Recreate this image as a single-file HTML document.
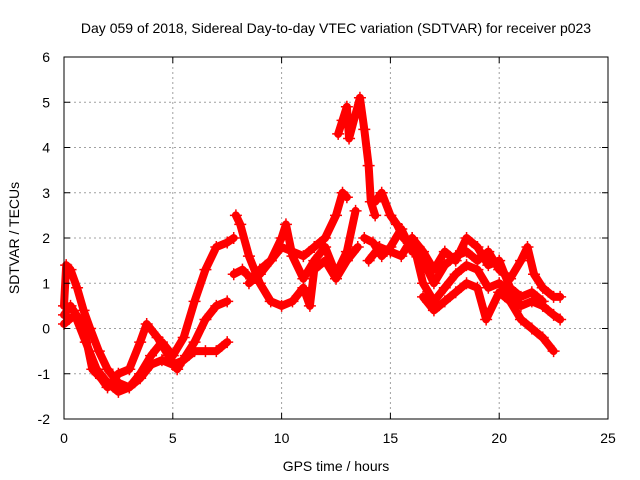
<!DOCTYPE html>
<html><head><meta charset="utf-8"><style>
body{margin:0;background:#fff}
svg{display:block;font-family:"Liberation Sans",sans-serif;font-size:14px}
</style></head><body>
<svg id="c" width="640" height="480">
<rect width="640" height="480" fill="#fff"/>
<text x="336" y="33" text-anchor="middle">Day 059 of 2018, Sidereal Day-to-day VTEC variation (SDTVAR) for receiver p023</text>
<text x="336" y="471" text-anchor="middle">GPS time / hours</text>
<text transform="translate(19,238) rotate(-90)" text-anchor="middle">SDTVAR / TECUs</text>
<g id="grid"></g><g id="data"></g><g id="axes"></g>
</svg>
<script>
const xTicks=[0,5,10,15,20,25];
const yTicks=[-2,-1,0,1,2,3,4,5,6];
const tracks=[
[[0,0.5],[0.1,1.4],[0.3,1.3],[0.6,0.9],[0.9,0.4],[1.2,0.0],[1.6,-0.5],[2.0,-0.9],[2.5,-1.2],[3.0,-1.3],[3.5,-1.0],[4.0,-0.6],[4.5,-0.3],[5.0,-0.6],[5.5,-0.2],[6.0,0.6],[6.5,1.3],[7.0,1.8],[7.5,1.9],[7.8,2.0]],
[[0,0.3],[0.3,0.5],[0.7,0.2],[1.0,-0.2],[1.3,-0.9],[1.7,-1.1],[2.0,-1.3],[2.5,-1.0],[3.0,-0.9],[3.5,-0.3],[3.8,0.1],[4.3,-0.2],[4.8,-0.6],[5.2,-0.9],[5.6,-0.6],[6.0,-0.3],[6.5,0.2],[7.0,0.5],[7.5,0.6]],
[[0,0.1],[0.5,0.3],[1.0,-0.3],[1.5,-0.9],[2.0,-1.2],[2.5,-1.4],[3.0,-1.3],[3.5,-1.1],[4.0,-0.8],[4.5,-0.7],[5.0,-0.8],[5.5,-0.7],[6.0,-0.5],[6.5,-0.5],[7.0,-0.5],[7.5,-0.3]],
[[7.8,1.2],[8.2,1.3],[8.6,1.1],[9.0,1.3],[9.5,1.5],[10,1.8],[10.5,1.7],[11,1.6],[11.5,1.8],[12,2.0],[12.5,2.5],[12.8,3.0],[13,2.9]],
[[7.9,2.5],[8.1,2.3],[8.5,1.6],[9,1.0],[9.5,0.6],[10,0.5],[10.5,0.6],[11,0.9],[11.3,0.5],[11.5,1.3],[12,1.5],[12.5,1.1],[13,1.5],[13.5,1.8]],
[[8.5,1.0],[9,1.2],[9.5,1.5],[10,2.0],[10.2,2.3],[10.5,1.6],[11,1.1],[11.5,1.5],[12,1.8],[12.5,1.2],[13,1.7],[13.4,2.6]],
[[12.6,4.3],[12.8,4.6],[13.0,4.9],[13.1,4.2],[13.6,5.1],[13.8,4.4],[14,3.6],[14.1,2.8],[14.3,2.5]],
[[14.3,2.8],[14.6,3.0],[15,2.5],[15.3,2.3],[15.6,2.0],[16,1.8]],
[[13.8,2.0],[14.2,1.9],[14.6,1.6],[15,1.8],[15.5,2.2],[16,1.7],[16.3,1.8],[16.7,1.3],[17,1.0],[17.5,1.4],[18,1.6],[18.5,1.7],[19,1.5],[19.5,1.7],[20,1.3],[20.5,1.1],[21,1.5],[21.3,1.8],[21.6,1.2],[22,0.9],[22.5,0.7],[22.8,0.7]],
[[14,1.5],[14.5,1.8],[15,1.7],[15.5,1.6],[16,2.0],[16.5,1.0],[17,0.6],[17.5,0.9],[18,1.2],[18.5,1.4],[19,1.3],[19.5,0.9],[20,1.0],[20.5,0.8],[21,0.5],[21.5,0.6],[22,0.5],[22.5,0.3],[22.8,0.2]],
[[16.5,0.7],[17,0.4],[17.5,0.6],[18,0.8],[18.5,1.0],[19,0.9],[19.4,0.2],[20,0.8],[20.5,0.6],[21,0.2],[21.5,0.0],[22,-0.2],[22.5,-0.5]],
[[16,2.0],[16.5,1.7],[17,1.3],[17.5,1.7],[18,1.5],[18.5,2.0],[19,1.8],[19.5,1.4],[20,1.5],[20.5,0.9],[21,0.7],[21.5,0.8],[22,0.6]]
];
const L=64,R=608,T=57,B=419;
const xs=v=>L+(v-0)/25*(R-L);
const ys=v=>B-(v+2)/8*(B-T);
const NS="http://www.w3.org/2000/svg";
function mk(tag,attrs,parent){const e=document.createElementNS(NS,tag);for(const k in attrs)e.setAttribute(k,attrs[k]);parent.appendChild(e);return e;}
const grid=document.getElementById('grid'),axes=document.getElementById('axes'),data=document.getElementById('data');
xTicks.forEach(t=>{const x=xs(t);
 if(t>0&&t<25){const g=mk('line',{x1:x,x2:x,y1:T,y2:B,stroke:'#a0a0a0','stroke-dasharray':'2,3'},grid);
 
 }
 mk('line',{x1:x,x2:x,y1:B,y2:B-6,stroke:'#000'},axes);mk('line',{x1:x,x2:x,y1:T,y2:T+6,stroke:'#000'},axes);
 const tx=mk('text',{x:x,y:B+24,'text-anchor':'middle'},axes);tx.textContent=t;
 
 
});
yTicks.forEach(t=>{const y=ys(t);
 if(t>-2&&t<6){const g=mk('line',{x1:L,x2:R,y1:y,y2:y,stroke:'#a0a0a0','stroke-dasharray':'2,3'},grid);
 
 }
 mk('line',{x1:L,x2:L+6,y1:y,y2:y,stroke:'#000'},axes);mk('line',{x1:R,x2:R-6,y1:y,y2:y,stroke:'#000'},axes);
 const tx=mk('text',{x:L-14,y:y+5,'text-anchor':'end'},axes);tx.textContent=t;
 
 
});
const fr=mk('rect',{x:L,y:T,width:R-L,height:B-T,fill:'none',stroke:'#000'},axes);


tracks.forEach(tr=>{
 const pl=mk('polyline',{points:tr.map(p=>xs(p[0])+','+ys(p[1])).join(' '),fill:'none',stroke:'#f00','stroke-width':8,'stroke-linejoin':'round','stroke-linecap':'round'},data);
 
 
 tr.forEach(p=>{const x=xs(p[0]),y=ys(p[1]);
  const m=mk('path',{d:`M${x-6},${y}H${x+6}M${x},${y-6}V${y+6}`,stroke:'#f00','stroke-width':1.5},data);
  
  
 });
});
</script>
</body></html>
